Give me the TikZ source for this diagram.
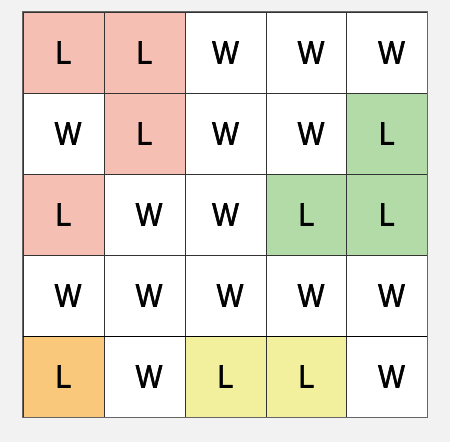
\documentclass[tikz,border=0pt]{standalone}
\usepackage{fontspec}
\setmainfont[FakeStretch=0.88,FakeBold=1.8]{Liberation Sans}
\definecolor{bggray}{HTML}{F2F2F2}
\definecolor{pinkcell}{HTML}{F5BFB3}
\definecolor{greencell}{HTML}{B3DBA8}
\definecolor{orangecell}{HTML}{FAC87A}
\definecolor{yellowcell}{HTML}{F2F09C}
\newcommand{\Wr}{\hspace*{9pt}W}
\begin{document}
\begin{tikzpicture}[x=1pt,y=-1pt]
        \fill[bggray] (0,0) rectangle (450,442);
        \useasboundingbox (0,0) rectangle (450,442);
        \begin{scope}[every node/.style={draw=black!80, line width=0.8pt, fill=white, minimum size=81pt, inner sep=0, font=\fontsize{32}{32}\selectfont}]
                % row 1
                \node[fill=pinkcell] (a1) at (63.5,52.5) {L};
                \node[fill=pinkcell] (a2) at (144.5,52.5) {L};
                \node (a3) at (225.5,52.5) {W};
                \node (a4) at (306.5,52.5) {\Wr};
                \node (a5) at (387,52.5) {\Wr};
                % row 2
                \node (b1) at (63.5,133.5) {\Wr};
                \node[fill=pinkcell] (b2) at (144.5,133.5) {L};
                \node (b3) at (225.5,133.5) {W};
                \node (b4) at (306.5,133.5) {\Wr};
                \node[fill=greencell] (b5) at (387,133.5) {L};
                % row 3
                \node[fill=pinkcell] (c1) at (63.5,214.5) {L};
                \node (c2) at (144.5,214.5) {\Wr};
                \node (c3) at (225.5,214.5) {W};
                \node[fill=greencell] (c4) at (306.5,214.5) {L};
                \node[fill=greencell] (c5) at (387,214.5) {L};
                % row 4
                \node (d1) at (63.5,295.5) {\Wr};
                \node (d2) at (144.5,295.5) {\Wr};
                \node (d3) at (225.5,295.5) {\Wr};
                \node (d4) at (306.5,295.5) {\Wr};
                \node (d5) at (387,295.5) {\Wr};
                % row 5
                \node[fill=orangecell] (e1) at (63.5,376.5) {L};
                \node (e2) at (144.5,376.5) {\Wr};
                \node[fill=yellowcell] (e3) at (225.5,376.5) {L};
                \node[fill=yellowcell] (e4) at (306.5,376.5) {L};
                \node (e5) at (387,376.5) {\Wr};
        \end{scope}
        \draw[black, line width=1.6pt] (d1.south west) -- (d5.south east);
        \draw[black!60, line width=1pt] (a1.north west) rectangle (e5.south east);
\end{tikzpicture}
\end{document}
